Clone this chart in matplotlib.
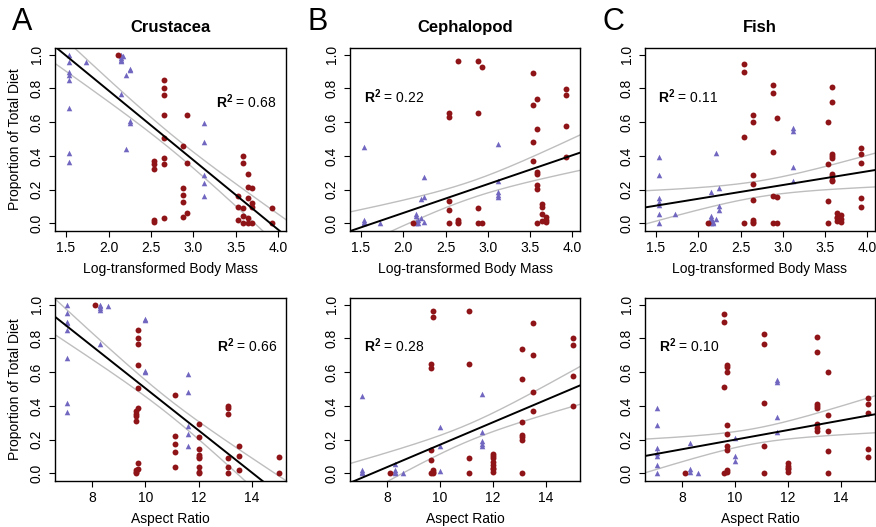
import numpy as np
import matplotlib
matplotlib.use('Agg')
import matplotlib.pyplot as plt

plt.rcParams['font.family'] = ['Liberation Sans', 'DejaVu Sans']
plt.rcParams['mathtext.fontset'] = 'custom'
plt.rcParams['mathtext.rm'] = 'Liberation Sans'
plt.rcParams['mathtext.bf'] = 'Liberation Sans:bold'

# ---- data: {x: [proportions]} ----
# top row: x = log-transformed body mass
crus_mass_red = {2.11: [1.0], 2.54: [0.37, 0.35, 0.32, 0.02, 0.01],
                 2.65: [0.85, 0.80, 0.76, 0.64, 0.505, 0.39, 0.35, 0.03],
                 2.88: [0.46, 0.21, 0.17, 0.125, 0.04], 2.93: [0.64, 0.36, 0.06],
                 3.53: [0.16, 0.10, 0.02], 3.58: [0.40, 0.36, 0.09, 0.045, 0.0],
                 3.64: [0.29, 0.215, 0.15, 0.035, 0.0], 3.69: [0.21, 0.12, 0.10, 0.0],
                 3.93: [0.09, 0.0]}
crus_mass_tri = {1.54: [1.0, 0.955, 0.90, 0.88, 0.85, 0.685, 0.42, 0.365], 1.73: [0.955],
                 2.15: [1.0, 0.99, 0.98, 0.97, 0.96, 0.765], 2.17: [0.99],
                 2.21: [0.88, 0.44], 2.25: [0.915, 0.91, 0.61, 0.595],
                 3.12: [0.595, 0.48, 0.285, 0.24, 0.165]}

ceph_mass_red = {2.11: [0.0], 2.54: [0.655, 0.63, 0.135, 0.08, 0.0],
                 2.65: [0.965, 0.02, 0.01, 0.0], 2.88: [0.96, 0.655, 0.09, 0.0],
                 2.93: [0.93, 0.0], 3.53: [0.89, 0.70, 0.48, 0.37],
                 3.58: [0.735, 0.56, 0.305, 0.295, 0.23, 0.205, 0.0],
                 3.64: [0.115, 0.095, 0.055, 0.015], 3.69: [0.04, 0.02, 0.01],
                 3.93: [0.795, 0.76, 0.58, 0.395]}
ceph_mass_tri = {1.54: [0.455, 0.02, 0.01, 0.0], 1.73: [0.0],
                 2.15: [0.055, 0.045, 0.01, 0.0], 2.17: [0.02, 0.0],
                 2.21: [0.145, 0.035], 2.25: [0.275, 0.155, 0.01],
                 3.12: [0.47, 0.25, 0.185, 0.17, 0.155]}

fish_mass_red = {2.11: [0.0], 2.54: [0.945, 0.90, 0.51, 0.0],
                 2.65: [0.645, 0.60, 0.285, 0.235, 0.14, 0.02, 0.01, 0.0],
                 2.88: [0.82, 0.775, 0.425, 0.165, 0.0], 2.93: [0.625, 0.155, 0.0],
                 3.53: [0.60, 0.35, 0.13, 0.0],
                 3.58: [0.81, 0.72, 0.41, 0.40, 0.385, 0.29, 0.28, 0.26, 0.25],
                 3.64: [0.06, 0.04, 0.03, 0.015], 3.69: [0.05, 0.025, 0.01],
                 3.93: [0.45, 0.41, 0.36, 0.15, 0.095]}
fish_mass_tri = {1.54: [0.395, 0.285, 0.15, 0.125, 0.11, 0.055, 0.005], 1.73: [0.055],
                 2.15: [0.185, 0.045, 0.035, 0.025, 0.015, 0.005], 2.17: [0.01, 0.0],
                 2.21: [0.42, 0.025], 2.25: [0.21, 0.105, 0.08],
                 3.12: [0.565, 0.55, 0.335, 0.25]}

# bottom row: x = aspect ratio
crus_ar_red = {8.1: [1.0], 9.65: [0.37, 0.35, 0.34, 0.31, 0.02, 0.01, 0.0],
               9.72: [0.85, 0.80, 0.765, 0.64, 0.505, 0.39, 0.06, 0.025],
               11.1: [0.465, 0.22, 0.175, 0.125, 0.04],
               12.0: [0.295, 0.215, 0.145, 0.11, 0.10, 0.09, 0.04, 0.01, 0.0],
               13.1: [0.40, 0.39, 0.355, 0.09, 0.04, 0.0], 13.5: [0.16, 0.105, 0.02],
               15.0: [0.095, 0.0]}
crus_ar_tri = {7.07: [1.0, 0.95, 0.90, 0.89, 0.85, 0.685, 0.42, 0.365],
               8.3: [1.0, 0.99, 0.98, 0.97, 0.765], 8.6: [0.99],
               10.0: [0.915, 0.91, 0.61, 0.60], 11.6: [0.59, 0.48, 0.28, 0.235, 0.165]}

ceph_ar_red = {8.1: [0.0], 9.65: [0.65, 0.627, 0.14, 0.08, 0.0],
               9.72: [0.963, 0.927, 0.02, 0.01, 0.0], 11.1: [0.96, 0.65, 0.093, 0.0],
               12.0: [0.115, 0.105, 0.09, 0.07, 0.05, 0.035, 0.025, 0.01],
               13.1: [0.735, 0.56, 0.305, 0.225, 0.215, 0.20, 0.0],
               13.5: [0.89, 0.70, 0.485, 0.37], 15.0: [0.80, 0.76, 0.58, 0.40]}
ceph_ar_tri = {7.07: [0.458, 0.02, 0.01, 0.0], 8.3: [0.055, 0.02, 0.01, 0.0], 8.6: [0.005],
               10.0: [0.275, 0.16, 0.015], 11.6: [0.47, 0.245, 0.19, 0.175, 0.16]}

fish_ar_red = {8.1: [0.0], 9.6: [0.945, 0.90, 0.51, 0.0],
               9.7: [0.64, 0.63, 0.60, 0.285, 0.235, 0.16, 0.14, 0.02, 0.01],
               11.1: [0.825, 0.77, 0.42, 0.16, 0.0], 12.0: [0.06, 0.045, 0.035, 0.025, 0.01],
               13.1: [0.81, 0.72, 0.41, 0.40, 0.385, 0.29, 0.27, 0.25],
               13.5: [0.60, 0.345, 0.25, 0.13, 0.0], 15.0: [0.45, 0.41, 0.36, 0.145, 0.095]}
fish_ar_tri = {7.07: [0.39, 0.285, 0.15, 0.12, 0.105, 0.05, 0.005], 8.3: [0.18, 0.025, 0.01],
               8.6: [0.005], 10.0: [0.21, 0.105, 0.075], 11.6: [0.555, 0.54, 0.335, 0.245]}

# fitted lines: intercept, slope; band: x of narrowest point, min half-width, growth
fits = [[1.614, -0.413, 2.75, 0.045, 0.0644],
        [-0.280, 0.171, 2.80, 0.050, 0.0714],
        [-0.017, 0.0815, 2.72, 0.047, 0.0645],
        [1.755, -0.125, 10.8, 0.045, 0.0229],
        [-0.496, 0.0666, 11.0, 0.050, 0.0234],
        [-0.085, 0.0285, 10.7, 0.045, 0.0218]]
r2_labels = ['0.68', '0.22', '0.11', '0.66', '0.28', '0.10']
r2_pos = [(3.26, 0.72), (1.53, 0.75), (1.52, 0.75), (12.69, 0.755), (7.14, 0.755), (7.13, 0.755)]

titles = ['Crustacea', 'Cephalopod', 'Fish']
letters = ['A', 'B', 'C']
panels = [(crus_mass_red, crus_mass_tri), (ceph_mass_red, ceph_mass_tri), (fish_mass_red, fish_mass_tri),
          (crus_ar_red, crus_ar_tri), (ceph_ar_red, ceph_ar_tri), (fish_ar_red, fish_ar_tri)]

red = '#8E1418'
blue = '#7166C0'
band_col = '#BEBEBE'

W, H = 876, 527
fig = plt.figure(figsize=(W / 100, H / 100), dpi=100)
col_left = [55, 350, 645]
col_w = [231, 230, 230]
row_top = [48, 298]
row_h = 183

for i, (d_red, d_tri) in enumerate(panels):
    r, c = divmod(i, 3)
    ax = fig.add_axes([col_left[c] / W, 1 - (row_top[r] + row_h) / H, col_w[c] / W, row_h / H])

    xr = [x for x, ys in d_red.items() for _ in ys]
    yr = [y for ys in d_red.values() for y in ys]
    xt = [x for x, ys in d_tri.items() for _ in ys]
    yt = [y for ys in d_tri.values() for y in ys]

    if r == 0:
        xlim = (1.37, 4.09)
        ax.set_xticks([1.5, 2.0, 2.5, 3.0, 3.5, 4.0])
        ax.set_xlabel('Log-transformed Body Mass', fontsize=10, labelpad=5)
    else:
        xlim = (6.61, 15.28)
        ax.set_xticks([8, 10, 12, 14])
        ax.set_xlabel('Aspect Ratio', fontsize=10, labelpad=5)
    ax.set_xlim(xlim)
    ax.set_ylim(-0.045, 1.04)
    ax.set_yticks([0.0, 0.2, 0.4, 0.6, 0.8, 1.0])
    ax.set_yticklabels(['0.0', '0.2', '0.4', '0.6', '0.8', '1.0'], rotation=90, va='center')

    a, b, x0, h0, k = fits[i]
    xx = np.linspace(xlim[0], xlim[1], 200)
    yy = a + b * xx
    hw = np.sqrt(h0 ** 2 + (k * (xx - x0)) ** 2)
    ax.plot(xx, yy + hw, color=band_col, lw=1.0, zorder=2)
    ax.plot(xx, yy - hw, color=band_col, lw=1.0, zorder=2)

    ax.scatter(xt, yt, marker='^', s=16, color=blue, linewidths=0, zorder=3)
    ax.scatter(xr, yr, marker='o', s=18, color=red, linewidths=0, zorder=3)
    ax.plot(xx, yy, color='black', lw=1.4, zorder=4)

    ax.text(r2_pos[i][0], r2_pos[i][1], r'$\mathbf{R^2}$ = ' + r2_labels[i],
            fontsize=10, va='center', ha='left', zorder=5)

    ax.tick_params(direction='out', length=4, width=0.8, labelsize=10, pad=3)
    ax.tick_params(axis='y', pad=4)
    for s in ax.spines.values():
        s.set_linewidth(1.0)

    if c == 0:
        ax.set_ylabel('Proportion of Total Diet', fontsize=10, labelpad=6)
    if r == 0:
        ax.text(0.5, 1.11, titles[c], transform=ax.transAxes, ha='center', va='center',
                fontsize=12, fontweight='bold')
        fig.text((col_left[c] - 43) / W, 1 - 22 / H, letters[c], fontsize=22,
                 ha='left', va='center')

fig.savefig('out.png', dpi=100)
